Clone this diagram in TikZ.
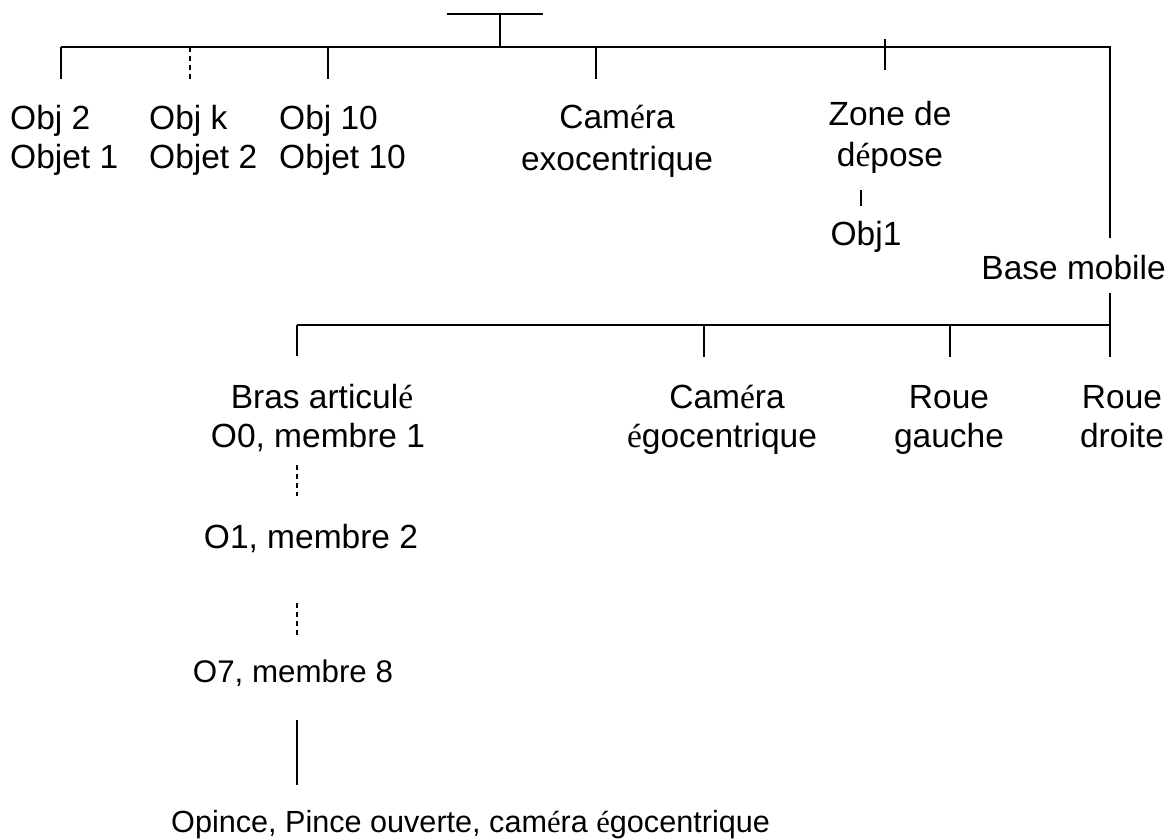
\documentclass[tikz,border=0pt]{standalone}
\usepackage{fontspec}
\setmainfont{Liberation Sans}
\newfontfamily\accfont{Liberation Serif}
\newcommand{\ea}{{\accfont é}}
\begin{document}
\begin{tikzpicture}[x=1pt,y=-1pt,
  wire/.style={line width=1.8pt,line cap=butt},
  dwire/.style={wire,dash pattern=on 5pt off 4pt},
  lbl/.style={inner sep=0pt,anchor=base,font=\fontsize{33.5}{40}\selectfont},
  lblw/.style={lbl,anchor=base west},
  lble/.style={lbl,anchor=base east},
  small/.style={lbl,font=\fontsize{31.3}{37}\selectfont},
  smallw/.style={small,anchor=base west,font=\fontsize{30.6}{36}\selectfont}]
\useasboundingbox (0,0) rectangle (1172,839);

% root and first level bus
\coordinate (rootL) at (447,14);
\coordinate (rootR) at (543,14);
\coordinate (root) at (500,14);
\coordinate (busroot) at (500,47);
\coordinate (busL) at (61,47);
\coordinate (busR) at (1110,47);
\coordinate (baseTop) at (1110,238);

% first level labels
\node[lblw] (obj2a) at (10,129) {Obj 2};
\node[lblw] (obj2b) at (10,168) {Objet 1};
\node[lblw] (objka) at (149,129) {Obj k};
\node[lblw] (objkb) at (149,168) {Objet 2};
\node[lblw] (obj10a) at (279,129) {Obj 10};
\node[lblw] (obj10b) at (279,168) {Objet 10};
\node[lbl] (camexoa) at (617,128) {Cam\ea ra};
\node[lbl] (camexob) at (617,170) {exocentrique};
\node[lbl] (zonea) at (890,125) {Zone de};
\node[lbl] (zoneb) at (890,166) {d\ea pose};
\node[lbl] (obj1) at (866,245) {Obj1};
\node[lble] (base) at (1166,279) {Base mobile};

% tick ends
\coordinate (t1a) at (61,47);   \coordinate (t1b) at (61,79);
\coordinate (t2a) at (190,47);  \coordinate (t2b) at (190,79);
\coordinate (t3a) at (328,47);  \coordinate (t3b) at (328,79);
\coordinate (t4a) at (596,47);  \coordinate (t4b) at (596,79);
\coordinate (t5a) at (885,39);  \coordinate (t5b) at (885,70);
\coordinate (z1) at (861,190);  \coordinate (z2) at (861,206);

\draw[wire] (rootL) -- (rootR);
\draw[wire] (root) -- (busroot);
\draw[wire] (busL) -- (busR) -- (baseTop);
\draw[wire] (t1a) -- (t1b);
\draw[dwire] (t2a) -- (t2b);
\draw[wire] (t3a) -- (t3b);
\draw[wire] (t4a) -- (t4b);
\draw[wire] (t5a) -- (t5b);
\draw[wire] (z1) -- (z2);

% second level bus under the mobile base
\coordinate (b2L) at (297,325);
\coordinate (b2R) at (1110,325);
\coordinate (b2top) at (1110,293);
\coordinate (b2bot) at (1110,357);
\coordinate (s1) at (297,356);
\coordinate (s2a) at (704,325); \coordinate (s2b) at (704,357);
\coordinate (s3a) at (950,325); \coordinate (s3b) at (950,357);

\draw[wire] (b2L) -- (b2R);
\draw[wire] (b2top) -- (b2bot);
\draw[wire] (b2L) -- (s1);
\draw[wire] (s2a) -- (s2b);
\draw[wire] (s3a) -- (s3b);

\node[lbl] (brasa) at (322,408) {Bras articul\ea};
\node[lbl] (brasb) at (318,447) {O0, membre 1};
\node[lbl] (camegoa) at (727,408) {Cam\ea ra};
\node[lbl] (camegob) at (722,447) {\ea gocentrique};
\node[lbl] (rga) at (949,408) {Roue};
\node[lbl] (rgb) at (949,447) {gauche};
\node[lbl] (rda) at (1122,408) {Roue};
\node[lbl] (rdb) at (1122,447) {droite};

% chain of the articulated arm
\node[lbl] (m2) at (311,548) {O1, membre 2};
\node[small] (m8) at (293,682) {O7, membre 8};
\node[smallw] (pince) at (171,832) {Opince, Pince ouverte, cam\ea ra \ea gocentrique};

\coordinate (c1a) at (297,465); \coordinate (c1b) at (297,496);
\coordinate (c2a) at (297,603); \coordinate (c2b) at (297,635);
\coordinate (c3a) at (297,720); \coordinate (c3b) at (297,785);
\draw[dwire] (c1a) -- (c1b);
\draw[dwire] (c2a) -- (c2b);
\draw[wire] (c3a) -- (c3b);
\end{tikzpicture}
\end{document}
